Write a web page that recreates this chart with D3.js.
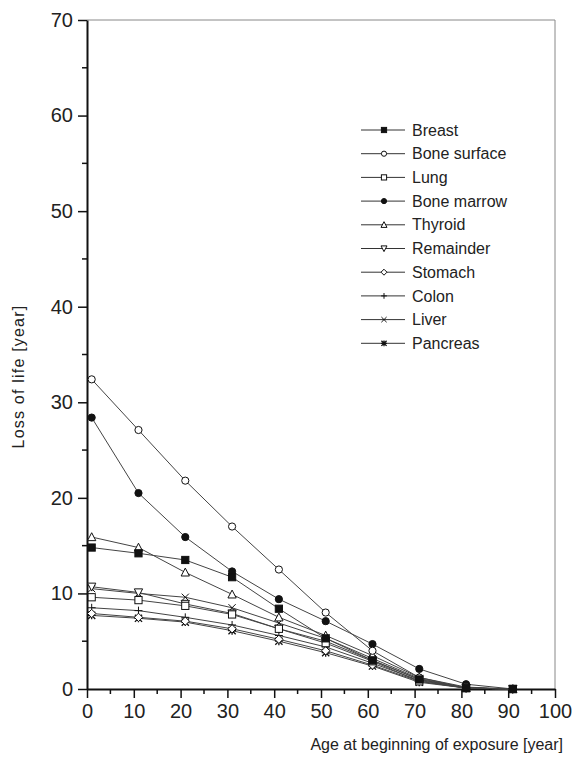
<!DOCTYPE html>
<html>
<head>
    <meta charset="utf-8">
    <title>Loss of life</title>
    <script src="https://d3js.org/d3.v7.min.js"></script>
    <style>
        body { margin: 0; background: #fff; }
        svg { display: block; font-family: "Liberation Sans", Arial, sans-serif; }
    </style>
</head>
<body>
    <div id="chart"></div>
    <script>
        const ages = [1, 11, 21, 31, 41, 51, 61, 71, 81, 91];
        const organs = ["Breast", "Bone surface", "Lung", "Bone marrow", "Thyroid",
            "Remainder", "Stomach", "Colon", "Liver", "Pancreas"];

        const breast = [14.8, 14.2, 13.5, 11.7, 8.4, 5.3, 3.0, 1.0, 0.1, 0];
        const boneSurface = [32.4, 27.1, 21.8, 17.0, 12.5, 8.0, 4.0, 1.2, 0.2, 0];
        const lung = [9.6, 9.3, 8.7, 7.8, 6.3, 4.8, 2.9, 0.8, 0.1, 0];
        const boneMarrow = [28.4, 20.5, 15.9, 12.3, 9.4, 7.1, 4.7, 2.1, 0.5, 0];
        const thyroid = [15.9, 14.8, 12.2, 9.9, 7.5, 5.6, 3.5, 1.2, 0.1, 0];
        const remainder = [10.7, 10.1, 8.9, 7.9, 6.3, 5.0, 3.0, 1.0, 0.1, 0];
        const stomach = [7.9, 7.5, 7.1, 6.3, 5.2, 4.0, 2.5, 0.8, 0.1, 0];
        const colon = [8.5, 8.2, 7.5, 6.7, 5.6, 4.4, 2.7, 0.9, 0.1, 0];
        const liver = [10.5, 10.0, 9.6, 8.5, 6.9, 5.3, 3.2, 1.1, 0.1, 0];
        const pancreas = [7.7, 7.4, 7.0, 6.1, 5.0, 3.8, 2.4, 0.7, 0.1, 0];

        const xTicks = [0, 10, 20, 30, 40, 50, 60, 70, 80, 90, 100];
        const yTicks = [0, 10, 20, 30, 40, 50, 60, 70];

        const values = [breast, boneSurface, lung, boneMarrow, thyroid,
            remainder, stomach, colon, liver, pancreas];
        const markers = ["squareFill", "circle", "square", "circleFill", "triUp",
            "triDown", "diamond", "plus", "cross", "star"];

        const series = organs.map((name, i) => ({
            name: name,
            marker: markers[i],
            points: ages.map((a, j) => ({ x: a, y: values[i][j] }))
        }));

        const width = 575, height = 760;
        const margin = { top: 20, right: 20, bottom: 71, left: 87 };

        const svg = d3.select("#chart").append("svg")
            .attr("width", width)
            .attr("height", height);

        const x = d3.scaleLinear().domain([0, 100]).range([margin.left, width - margin.right]);
        const y = d3.scaleLinear().domain([0, 70]).range([height - margin.bottom, margin.top]);

        // frame top / right
        svg.append("path")
            .attr("d", `M${x(0)},${y(70)}H${x(100)}V${y(0)}`)
            .attr("fill", "none")
            .attr("stroke", "#888")
            .attr("stroke-width", 1);

        // minor ticks
        const minorX = d3.range(5, 100, 10);
        const minorY = d3.range(5, 70, 10);
        svg.append("g").selectAll("line").data(minorX).join("line")
            .attr("x1", d => x(d)).attr("x2", d => x(d))
            .attr("y1", y(0)).attr("y2", y(0) + 5)
            .attr("stroke", "#111").attr("stroke-width", 1.5);
        svg.append("g").selectAll("line").data(minorY).join("line")
            .attr("y1", d => y(d)).attr("y2", d => y(d))
            .attr("x1", x(0)).attr("x2", x(0) - 5)
            .attr("stroke", "#111").attr("stroke-width", 1.5);

        const xAxis = svg.append("g")
            .attr("transform", `translate(0,${y(0)})`)
            .call(d3.axisBottom(x).tickValues(xTicks).tickSize(9).tickSizeOuter(0).tickPadding(6));
        const yAxis = svg.append("g")
            .attr("transform", `translate(${x(0)},0)`)
            .call(d3.axisLeft(y).tickValues(yTicks).tickSize(9).tickSizeOuter(0).tickPadding(5));

        [xAxis, yAxis].forEach(a => {
            a.select(".domain").attr("stroke", "#111").attr("stroke-width", 2);
            a.selectAll(".tick line").attr("stroke", "#111").attr("stroke-width", 1.5);
            a.selectAll(".tick text")
                .attr("fill", "#222")
                .style("font-size", "20px")
                .style("font-family", "'Liberation Sans', Arial, sans-serif");
        });

        svg.append("text")
            .attr("transform", `translate(24,${(y(0) + y(70)) / 2 + 22}) rotate(-90)`)
            .attr("text-anchor", "middle")
            .attr("fill", "#222")
            .style("font-size", "16px")
            .style("letter-spacing", "1.2px")
            .text("Loss of life [year]");

        svg.append("text")
            .attr("x", 563)
            .attr("y", 750)
            .attr("text-anchor", "end")
            .attr("fill", "#222")
            .style("font-size", "16px")
            .text("Age at beginning of exposure [year]");

        // marker shapes, drawn around 0,0
        function drawMarker(sel, type, r) {
            const black = "#111";
            if (type === "circle" || type === "circleFill") {
                sel.append("circle").attr("r", r)
                    .attr("fill", type === "circleFill" ? black : "#fff")
                    .attr("stroke", black).attr("stroke-width", 1);
            } else if (type === "square" || type === "squareFill") {
                sel.append("rect").attr("x", -r).attr("y", -r)
                    .attr("width", 2 * r).attr("height", 2 * r)
                    .attr("fill", type === "squareFill" ? black : "#fff")
                    .attr("stroke", black).attr("stroke-width", 1);
            } else if (type === "triUp") {
                sel.append("path").attr("d", `M0,${-r * 1.2}L${r * 1.15},${r}L${-r * 1.15},${r}Z`)
                    .attr("fill", "#fff").attr("stroke", black).attr("stroke-width", 1);
            } else if (type === "triDown") {
                sel.append("path").attr("d", `M0,${r * 1.2}L${r * 1.15},${-r}L${-r * 1.15},${-r}Z`)
                    .attr("fill", "#fff").attr("stroke", black).attr("stroke-width", 1);
            } else if (type === "diamond") {
                sel.append("path").attr("d", `M0,${-r * 1.15}L${r * 1.15},0L0,${r * 1.15}L${-r * 1.15},0Z`)
                    .attr("fill", "#fff").attr("stroke", black).attr("stroke-width", 1);
            } else if (type === "plus") {
                sel.append("path").attr("d", `M0,${-r * 1.1}V${r * 1.1}M${-r * 1.1},0H${r * 1.1}`)
                    .attr("stroke", black).attr("stroke-width", 1);
            } else if (type === "cross") {
                sel.append("path").attr("d", `M${-r},${-r}L${r},${r}M${-r},${r}L${r},${-r}`)
                    .attr("stroke", black).attr("stroke-width", 1);
            } else if (type === "star") {
                sel.append("path").attr("d", `M${-r},${-r}L${r},${r}M${-r},${r}L${r},${-r}M0,${-r * 1.1}V${r * 1.1}M${-r * 1.1},0H${r * 1.1}`)
                    .attr("stroke", black).attr("stroke-width", 1.3);
            }
        }

        const line = d3.line().x(d => x(d.x)).y(d => y(d.y));

        const plot = svg.append("g");
        plot.selectAll("path.series").data(series).join("path")
            .attr("class", "series")
            .attr("d", d => line(d.points))
            .attr("fill", "none")
            .attr("stroke", "#444")
            .attr("stroke-width", 1);

        // draw markers in reverse so breast sits on top
        series.slice().reverse().forEach(s => {
            plot.append("g").selectAll("g").data(s.points).join("g")
                .attr("transform", d => `translate(${x(d.x)},${y(d.y)})`)
                .each(function () { drawMarker(d3.select(this), s.marker, 3.6); });
        });

        // legend
        const legend = svg.append("g").attr("transform", "translate(361,130)");
        const rowH = 23.7;
        series.forEach((s, i) => {
            const row = legend.append("g").attr("transform", `translate(0,${i * rowH})`);
            row.append("line")
                .attr("x1", 0).attr("x2", 44)
                .attr("stroke", "#333").attr("stroke-width", 1);
            const m = row.append("g").attr("transform", "translate(23,0)");
            drawMarker(m, s.marker, 2.6);
            row.append("text")
                .attr("x", 51)
                .attr("dy", "0.35em")
                .attr("fill", "#222")
                .style("font-size", "16px")
                .text(s.name);
        });
    </script>
</body>
</html>
